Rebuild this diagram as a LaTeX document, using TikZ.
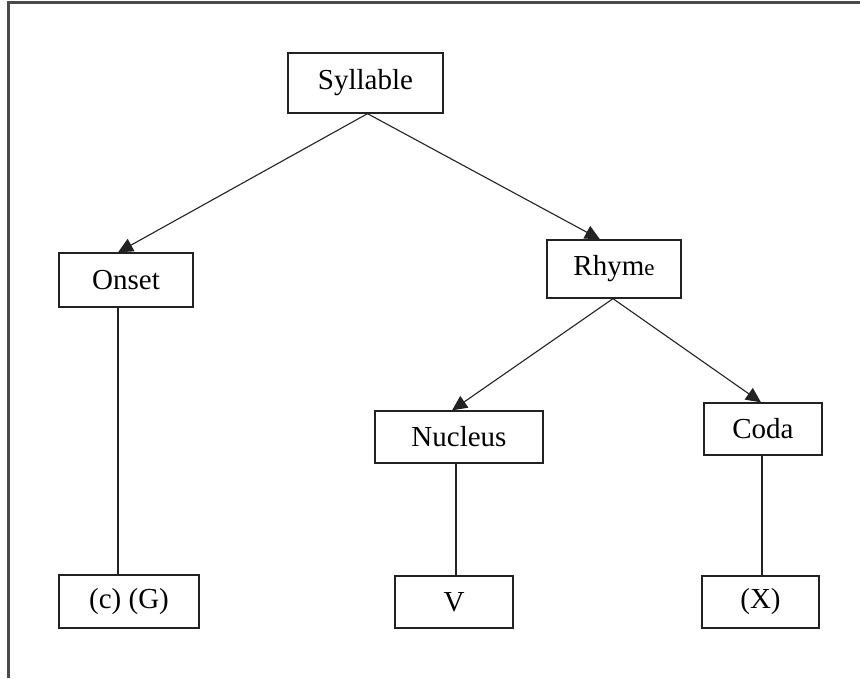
\documentclass[tikz,border=0pt]{standalone}
\usepackage{fontspec}
\setmainfont{Liberation Serif}
\usetikzlibrary{arrows.meta}
\definecolor{framegray}{HTML}{4A4A4A}
\definecolor{ink}{HTML}{222222}
\tikzset{
  box/.style={draw=ink, line width=1.3pt, inner sep=0pt, fill=white,
    font=\fontsize{29}{32}\selectfont, text=black},
  link/.style={draw=ink, line width=1.1pt},
  arrowlink/.style={link, -{Triangle[length=15pt,width=14pt]}},
}
\begin{document}
\begin{tikzpicture}[x=1pt,y=-1pt]
  \useasboundingbox (0,0) rectangle (860,678);
  % page frame: top and left edges
  \draw[framegray, line width=2.6pt] (8.5,678) -- (8.5,2.5) -- (860,2.5);

  % tree nodes
  \node[box, minimum width=155pt, minimum height=60pt] (syl) at (365.5,83) {Syllable};
  \node[box, minimum width=134pt, minimum height=54pt] (onset) at (126,280) {Onset};
  \node[box, minimum width=134pt, minimum height=58pt] (rhyme) at (614,269)
    {Rhym{\fontsize{23}{26}\selectfont e}};
  \node[box, minimum width=168pt, minimum height=52pt] (nucleus) at (459,437) {Nucleus};
  \node[box, minimum width=118pt, minimum height=52pt] (coda) at (763,429) {Coda};
  \node[box, minimum width=140pt, minimum height=53pt] (cg) at (129,601.5) {(c) (G)};
  \node[box, minimum width=118pt, minimum height=52pt] (v) at (454,602) {V};
  \node[box, minimum width=117pt, minimum height=52pt] (xx) at (760.5,602) {(X)};

  % branching arrows
  \draw[arrowlink] ([xshift=2pt]syl.south) -- ([xshift=-8pt]onset.north);
  \draw[arrowlink] ([xshift=2pt]syl.south) -- ([xshift=-14pt]rhyme.north);
  \draw[arrowlink] ([xshift=-1pt]rhyme.south) -- ([xshift=-7pt]nucleus.north);
  \draw[arrowlink] ([xshift=-1pt]rhyme.south) -- ([xshift=-2pt]coda.north);

  % vertical links to the segment slots
  \draw[link] ([xshift=-8pt]onset.south) -- ([xshift=-8pt]onset.south |- cg.north);
  \draw[link] ([xshift=-3pt]nucleus.south) -- ([xshift=-3pt]nucleus.south |- v.north);
  \draw[link] ([xshift=-1pt]coda.south) -- ([xshift=-1pt]coda.south |- xx.north);
\end{tikzpicture}
\end{document}
